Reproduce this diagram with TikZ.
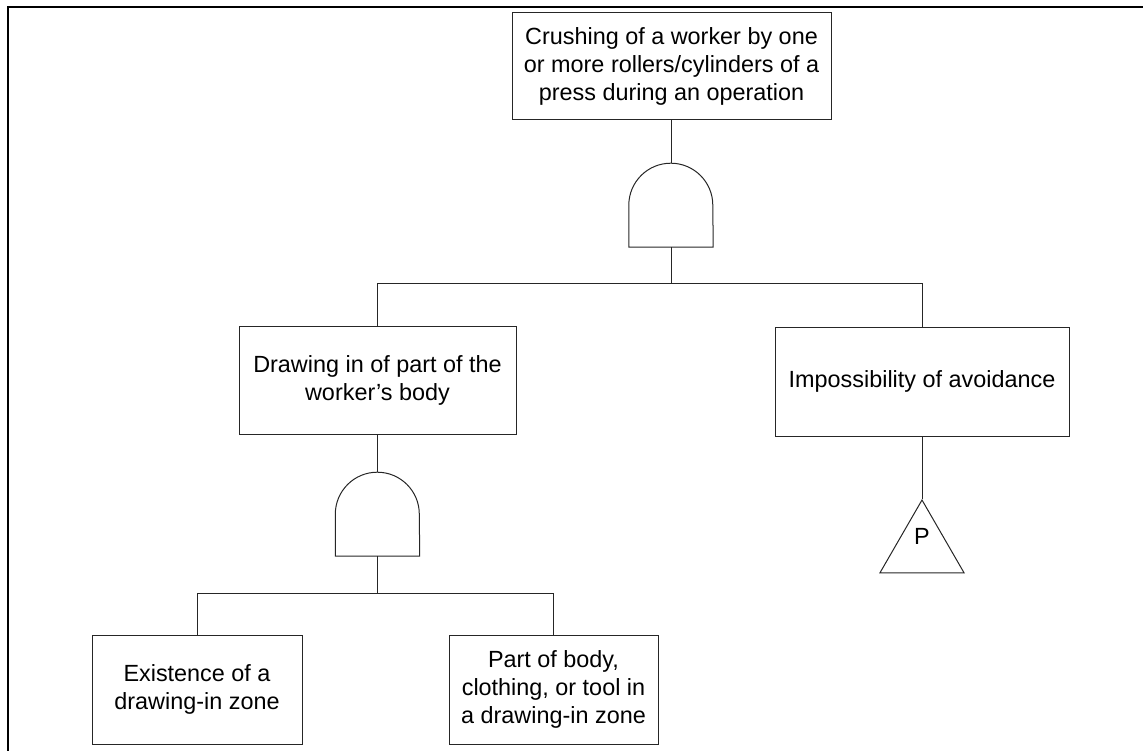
\documentclass[tikz,border=0pt]{standalone}
\usepackage{fontspec}
\setmainfont{Liberation Sans}
\usetikzlibrary{shapes.geometric}
\tikzset{
  evbox/.style={draw=black!85, line width=1pt, inner sep=0pt, align=center,
    font=\fontsize{23.4}{28}\selectfont},
  gatebox/.style={inner sep=0pt, minimum width=84pt, minimum height=84pt},
  gateline/.style={draw=black!85, line width=1pt},
  conn/.style={draw=black!85, line width=1pt},
  tri/.style={draw=black!85, line width=1pt, regular polygon, regular polygon sides=3,
    minimum size=97pt, inner sep=0pt},
  frame/.style={draw=black, line width=2pt}
}
\begin{document}
\begin{tikzpicture}[x=1pt,y=-1pt]
\useasboundingbox (0,0) rectangle (1143,751);
\draw[frame] (7.5,751) -- (7.5,7.5) -- (1143,7.5);

\node[evbox, minimum width=319pt, minimum height=107pt] (top) at (671.5,66.5)
  {Crushing of a worker by one\\or more rollers/cylinders of a\\press during an operation};
\node[evbox, minimum width=277pt, minimum height=108pt] (ml) at (377.5,380)
  {Drawing in of part of the\\worker’s body};
\node[evbox, minimum width=294pt, minimum height=109pt] (mr) at (922,381.5)
  {Impossibility of avoidance};
\node[evbox, minimum width=210pt, minimum height=109pt] (bl) at (197,689.5)
  {Existence of a\\drawing-in zone};
\node[evbox, minimum width=209pt, minimum height=109pt] (br) at (553.5,689.5)
  {Part of body,\\clothing, or tool in\\a drawing-in zone};

% AND gates
\node[gatebox] (g1) at (671,205) {};
\draw[gateline] (g1.south west) -- ++(0,42pt) arc[start angle=180,end angle=0,radius=42pt] -- (g1.south east) -- cycle;
\node[gatebox] (g2) at (377.5,514) {};
\draw[gateline] (g2.south west) -- ++(0,42pt) arc[start angle=180,end angle=0,radius=42pt] -- (g2.south east) -- cycle;

% transfer triangle
\node[tri] (t) at (922,548.5) {};
\node[font=\fontsize{23.4}{28}\selectfont, inner sep=0pt] (tp) at (922,536) {P};

\coordinate (bar1) at (0,284);
\coordinate (bar2) at (0,593);

\draw[conn] (top.south -| g1.north) -- (g1.north);
\draw[conn] (g1.south) -- (g1.south |- bar1);
\draw[conn] (ml.north) -- (ml.north |- bar1) -- (mr.north |- bar1) -- (mr.north);
\draw[conn] (ml.south) -- (g2.north);
\draw[conn] (g2.south) -- (g2.south |- bar2);
\draw[conn] (bl.north) -- (bl.north |- bar2) -- (br.north |- bar2) -- (br.north);
\draw[conn] (mr.south) -- (t.corner 1);
\end{tikzpicture}
\end{document}
